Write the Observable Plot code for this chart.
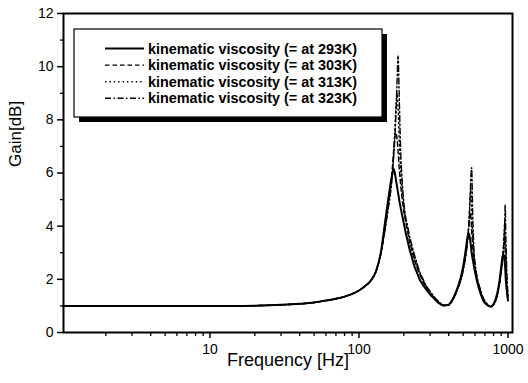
<!DOCTYPE html>
<html>
<head>
<meta charset="utf-8">
<script src="https://cdn.jsdelivr.net/npm/d3@7"></script>
<script src="https://cdn.jsdelivr.net/npm/@observablehq/plot@0.6"></script>
<style>
  body { margin: 0; background: #fff; }
  #chart { width: 528px; height: 383px; }
</style>
</head>
<body>
<div id="chart"></div>
<script>
// Frequency grid (Hz), shared by all four temperature curves
const freq = [1.04, 5, 10, 15, 20, 30, 40, 50, 60, 70, 80, 90, 100, 110, 120, 130, 140,
  150, 157, 164, 168, 171, 174, 177, 180, 183, 186, 190, 195, 200, 205, 212, 218, 226,
  235, 245, 255, 267, 280, 295, 310, 340, 370, 400, 430, 460, 495, 520, 535, 545, 552,
  558, 564, 570, 580, 590, 605, 620, 650, 685, 720, 764, 805, 845, 875, 900, 918, 933,
  942, 950, 958, 965, 982, 1000];

// Gain [dB] for each oil temperature
const gain293 = [1.00, 1.00, 1.00, 1.00, 1.01, 1.04, 1.08, 1.13, 1.20, 1.27, 1.35, 1.45, 1.58, 1.75, 1.95, 2.30, 3.00,
  4.20, 5.00, 5.70, 6.00, 6.15, 6.00, 5.75, 5.50, 5.25, 5.00, 4.72, 4.40, 4.10, 3.80, 3.45, 3.15, 2.85,
  2.50, 2.25, 2.00, 1.82, 1.65, 1.48, 1.35, 1.12, 1.01, 1.05, 1.30, 1.70, 2.35, 3.10, 3.60, 3.74, 3.62,
  3.45, 3.25, 3.00, 2.75, 2.50, 2.20, 1.92, 1.52, 1.18, 1.04, 0.97, 1.10, 1.45, 1.90, 2.45, 2.85, 2.95,
  2.85, 2.65, 2.40, 2.05, 1.55, 1.20];
const gain303 = [1.00, 1.00, 1.00, 1.00, 1.01, 1.04, 1.08, 1.13, 1.20, 1.27, 1.35, 1.45, 1.58, 1.75, 1.95, 2.30, 2.95,
  4.00, 4.80, 5.60, 6.30, 6.90, 7.35, 7.50, 7.30, 6.80, 6.20, 5.60, 5.00, 4.55, 4.20, 3.80, 3.45, 3.10,
  2.75, 2.45, 2.20, 1.95, 1.75, 1.55, 1.40, 1.15, 1.02, 1.04, 1.30, 1.68, 2.30, 2.95, 3.50, 4.00, 4.35,
  4.50, 4.30, 3.85, 3.20, 2.75, 2.30, 2.00, 1.60, 1.25, 1.07, 0.98, 1.08, 1.40, 1.85, 2.35, 2.80, 3.25,
  3.60, 3.45, 3.00, 2.60, 1.80, 1.30];
const gain313 = [1.00, 1.00, 1.00, 1.00, 1.01, 1.04, 1.08, 1.13, 1.20, 1.27, 1.35, 1.45, 1.58, 1.75, 1.95, 2.30, 2.95,
  3.95, 4.70, 5.50, 6.10, 6.80, 7.60, 8.50, 9.00, 8.40, 7.30, 6.20, 5.30, 4.70, 4.30, 3.90, 3.55, 3.20,
  2.85, 2.50, 2.25, 2.00, 1.78, 1.58, 1.42, 1.17, 1.03, 1.04, 1.28, 1.66, 2.25, 2.90, 3.45, 4.00, 4.60,
  5.20, 5.40, 4.70, 3.60, 2.95, 2.40, 2.05, 1.62, 1.27, 1.08, 0.98, 1.07, 1.38, 1.82, 2.30, 2.75, 3.20,
  3.70, 4.20, 3.60, 3.00, 2.00, 1.35];
const gain323 = [1.00, 1.00, 1.00, 1.00, 1.01, 1.04, 1.08, 1.13, 1.20, 1.27, 1.35, 1.45, 1.58, 1.75, 1.95, 2.30, 2.95,
  3.90, 4.65, 5.40, 6.00, 6.60, 7.30, 8.20, 9.40, 10.40, 9.00, 7.00, 5.70, 4.90, 4.40, 4.00, 3.65, 3.30,
  2.95, 2.60, 2.30, 2.05, 1.80, 1.60, 1.44, 1.18, 1.03, 1.03, 1.27, 1.64, 2.20, 2.85, 3.40, 3.95, 4.55,
  5.20, 5.90, 6.20, 4.40, 3.20, 2.50, 2.10, 1.65, 1.28, 1.09, 0.99, 1.06, 1.36, 1.80, 2.25, 2.70, 3.15,
  3.60, 4.10, 4.80, 3.90, 2.30, 1.40];

const seriesLabels = [
  "kinematic viscosity (= at 293K)",
  "kinematic viscosity (= at 303K)",
  "kinematic viscosity (= at 313K)",
  "kinematic viscosity (= at 323K)"
];

// Axis ticks
const xMajor = [10, 100, 1000];
const xMinor = [2, 3, 4, 5, 6, 7, 8, 9, 20, 30, 40, 50, 60, 70, 80, 90, 200, 300, 400, 500, 600, 700, 800, 900];
const yMajor = [0, 2, 4, 6, 8, 10, 12];
const yMinor = [1, 3, 5, 7, 9, 11];

// Line styles per curve (solid, dash, dot, dash-dot)
const styles = [
  {strokeWidth: 2, strokeDasharray: null},
  {strokeWidth: 1.4, strokeDasharray: "4.5,3"},
  {strokeWidth: 1.4, strokeDasharray: "1.4,3"},
  {strokeWidth: 1.4, strokeDasharray: "6,2.5,1.5,2.5"}
];

const gains = [gain293, gain303, gain313, gain323];
const tables = gains.map((g, k) => freq.map((f, i) => ({f, g: g[i], s: seriesLabels[k]})));

const font = "'Liberation Sans', Arial, sans-serif";

const chart = Plot.plot({
  width: 528,
  height: 383,
  marginLeft: 63,
  marginRight: 16,
  marginTop: 13,
  marginBottom: 51,
  style: {fontFamily: font, color: "black", background: "white", overflow: "visible"},
  x: {type: "log", domain: [1.04, 1072], label: null},
  y: {domain: [0, 12], label: null},
  marks: [
    Plot.axisX(xMinor, {tickSize: 4, tickFormat: () => "", strokeWidth: 1.3, label: null}),
    Plot.axisX(xMajor, {tickSize: 6, tickPadding: 6, fontSize: 14, strokeWidth: 1.5, tickFormat: d => String(d), label: null}),
    Plot.axisY(yMinor, {tickSize: 3, tickFormat: () => "", strokeWidth: 1.3, label: null}),
    Plot.axisY(yMajor, {tickSize: 6, tickPadding: 4, fontSize: 14, strokeWidth: 1.5, tickFormat: d => String(d), label: null}),
    ...tables.map((t, k) => Plot.line(t, {
      x: "f", y: "g", stroke: "black", curve: "monotone-x",
      strokeWidth: styles[k].strokeWidth,
      strokeDasharray: styles[k].strokeDasharray
    })),
    Plot.frame({stroke: "black", strokeWidth: 2}),
    Plot.text(["Frequency [Hz]"], {frameAnchor: "bottom", dy: 33, fontSize: 18, fill: "black"}),
    Plot.text(["Gain[dB]"], {frameAnchor: "left", dx: -48, dy: -6, rotate: -90, fontSize: 17, fill: "black"})
  ]
});

document.getElementById("chart").appendChild(chart);

// Legend box with drop shadow, drawn inside the plot area
const svg = d3.select(chart);
const lg = svg.append("g").attr("text-anchor", "start");
const box = {x: 74, y: 29, w: 308, h: 88, shadow: 5};
lg.append("rect")
  .attr("x", box.x + box.shadow).attr("y", box.y + box.shadow)
  .attr("width", box.w).attr("height", box.h)
  .attr("fill", "black");
lg.append("rect")
  .attr("x", box.x).attr("y", box.y)
  .attr("width", box.w).attr("height", box.h)
  .attr("fill", "white").attr("stroke", "black").attr("stroke-width", 1.2);

seriesLabels.forEach((label, k) => {
  const cy = 48.5 + k * 16.6;
  lg.append("line")
    .attr("x1", 105).attr("x2", 144)
    .attr("y1", cy).attr("y2", cy)
    .attr("stroke", "black")
    .attr("stroke-width", styles[k].strokeWidth)
    .attr("stroke-dasharray", styles[k].strokeDasharray);
  lg.append("text")
    .attr("x", 148).attr("y", cy + 5)
    .attr("text-anchor", "start")
    .attr("font-family", font)
    .attr("font-size", 14.4)
    .attr("font-weight", "bold")
    .attr("fill", "black")
    .text(label);
});
</script>
</body>
</html>
